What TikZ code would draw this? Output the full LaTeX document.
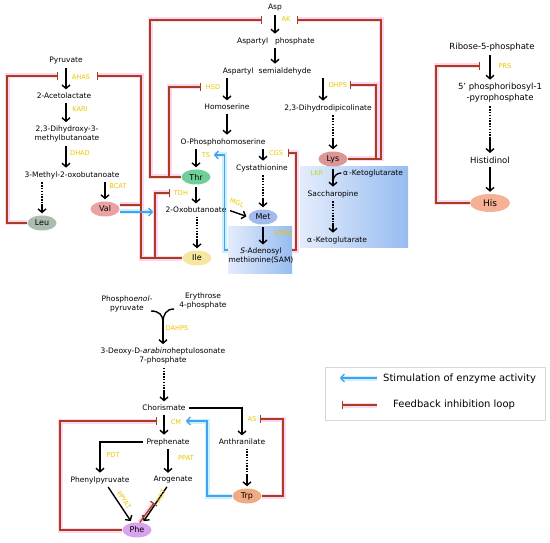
\documentclass[tikz,border=0pt]{standalone}
\usepackage{fontspec}
\setmainfont{DejaVu Sans}
\usetikzlibrary{arrows.meta,calc,shapes.geometric}
\pgfdeclarelayer{back}
\pgfdeclarelayer{mid}
\pgfsetlayers{back,mid,main}
\definecolor{inhc}{RGB}{168,62,32}
\definecolor{haloP}{RGB}{255,214,242}
\definecolor{stimc}{RGB}{70,160,235}
\definecolor{haloB}{RGB}{200,242,255}
\definecolor{enzc}{RGB}{236,196,0}
\definecolor{lkrc}{RGB}{196,212,40}
\definecolor{legc}{RGB}{215,215,215}
\definecolor{leuc}{RGB}{172,188,174}
\definecolor{valc}{RGB}{236,162,160}
\definecolor{thrc}{RGB}{112,206,152}
\definecolor{ilec}{RGB}{246,230,160}
\definecolor{metc}{RGB}{162,186,236}
\definecolor{lysc}{RGB}{220,150,150}
\definecolor{hisc}{RGB}{246,176,150}
\definecolor{trpc}{RGB}{240,170,132}
\definecolor{phec}{RGB}{216,162,236}
\definecolor{boxL}{RGB}{228,236,252}
\definecolor{boxR}{RGB}{150,188,240}
\tikzset{
 txt/.style={font=\fontsize{7.5}{9}\selectfont, inner sep=1.5pt, align=center},
 txth/.style={font=\fontsize{8.5}{11}\selectfont, inner sep=1.5pt, align=center},
 en/.style={font=\fontsize{6.6}{7}\selectfont, text=enzc, inner sep=0.5pt},
 aa/.style={ellipse, inner sep=0pt, minimum width=29pt, minimum height=15pt, font=\fontsize{8}{9}\selectfont},
 arr/.style={black, line width=1.4pt, -{Straight Barb[length=3.5pt,width=8pt]}, shorten <=2pt, shorten >=2pt},
 dotl/.style={black, line width=1.4pt, dash pattern=on 1.4pt off 1.4pt, shorten <=2pt},
 inhib/.style={inhc, line width=1.3pt, -{Bar[width=8pt]}},
 stim/.style={stimc, line width=1.3pt, -{Straight Barb[length=3.5pt,width=8pt]}},
 boxs/.style={inner sep=0pt, left color=boxL, right color=boxR},
}
\newcommand\inh[1]{\begin{pgfonlayer}{mid}\draw[haloP,line width=5pt] #1;\end{pgfonlayer}\draw[inhib] #1;}
\newcommand\stm[1]{\begin{pgfonlayer}{mid}\draw[haloB,line width=5pt] #1;\end{pgfonlayer}\draw[stim] #1;}
\newcommand\dotarr[2]{\draw[dotl] (#1) -- ($(#1)!0.68!(#2)$); \draw[arr,shorten <=0pt] ($(#1)!0.68!(#2)$) -- (#2);}
\begin{document}
\begin{tikzpicture}[x=1pt,y=-1pt]
\useasboundingbox (0,0) rectangle (550,543);
% ---------- boxes
\begin{pgfonlayer}{back}
\node[boxs, minimum width=64pt, minimum height=46pt] (sambox) at (260,250) {};
\node[boxs, minimum width=108pt, minimum height=80pt] (lysbox) at (354,207) {};
\end{pgfonlayer}
% ---------- branched-chain
\node[txt] (pyr) at (66,61) {Pyruvate};
\node[txt] (acl) at (64,96) {2-Acetolactate};
\node[txt] (dhm) at (67,134) {2,3-Dihydroxy-3-\\methylbutanoate};
\node[txt] (mob) at (72,175) {3-Methyl-2-oxobutanoate};
\node[aa, fill=valc] (val) at (105,209) {Val};
\node[aa, fill=leuc] (leu) at (42,223) {Leu};
\node[en] at (81,77) {AHAS};
\node[en] at (80,109) {KARI};
\node[en] at (80,153) {DHAD};
\node[en] at (118,186) {BCAT};
\draw[arr] (pyr.south) -- (pyr |- acl.north);
\draw[arr] (acl.south -| pyr) -- (pyr |- dhm.north);
\draw[arr] (dhm.south -| pyr) -- (pyr |- mob.north);
\draw[arr] (mob.south -| val) -- (val.north);
\coordinate (s1) at (mob.south -| leu);
\dotarr{s1}{leu.north}
\coordinate (ahasL) at (58,76);
\coordinate (ahasR) at (97,76);
% ---------- aspartate family
\node[txt] (asp) at (275,8) {Asp};
\node[txt] (aspp) at (276,41) {Aspartyl\hspace{7pt}phosphate};
\node[txt] (asps) at (267,71) {Aspartyl\hspace{5pt}semialdehyde};
\draw[arr] (asp.south) -- (asp |- aspp.north);
\draw[arr] (aspp.south -| asp) -- (asp |- asps.north);
\node[en] at (286,19) {AK};
\coordinate (akL) at (262,20);
\coordinate (akR) at (297,20);
\node[txt] (hom) at (227,107) {Homoserine};
\draw[arr] (asps.south -| hom) -- (hom.north);
\node[en] at (213,87) {HSD};
\coordinate (hsdbar) at (201,87);
\node[txt] (dhdp) at (328,108) {2,3-Dihydrodipicolinate};
\node[aa, fill=lysc] (lys) at (333,159) {Lys};
\coordinate (dhpsx) at (323,0);
\draw[arr] (asps.south -| dhpsx) -- (dhpsx |- dhdp.north);
\node[en] at (338,85) {DHPS};
\coordinate (dhpsbar) at (350,85);
\coordinate (s2) at (dhdp.south -| lys);
\dotarr{s2}{lys.north}
\node[txt] (oph) at (223,142) {O-Phosphohomoserine};
\draw[arr] (hom.south) -- (hom |- oph.north);
\node[aa, fill=thrc] (thr) at (196,177) {Thr};
\draw[arr] (oph.south -| thr) -- (thr.north);
\node[en] at (206,155) {TS};
\coordinate (tsin) at (214,155);
\node[txt] (cyst) at (262,168) {Cystathionine};
\node[aa, fill=metc] (met) at (263,217) {Met};
\draw[arr] (oph.south -| met) -- (met |- cyst.north);
\node[en] at (276,153) {CGS};
\coordinate (cgsbar) at (288,153);
\coordinate (s3) at (cyst.south -| met);
\dotarr{s3}{met.north}
\node[txt] (oxb) at (196,210) {2-Oxobutanoate};
\draw[arr] (thr.south) -- (thr |- oxb.north);
\node[en] at (181,193) {TDH};
\coordinate (tdhbar) at (170,193);
\draw[arr] (oxb.east) -- (met.west);
\node[en, rotate=-20] at (237,203) {MGL};
\node[aa, fill=ilec] (ile) at (197,258) {Ile};
\coordinate (s4) at (oxb.south -| ile);
\dotarr{s4}{ile.north}
\node[txt] (sam) at (261,256) {\textit{S}-Adenosyl\\methionine(SAM)};
\draw[arr] (met.south) -- (met |- sam.north);
\node[en] at (283,233) {SAMS};
% lysine degradation
\node[txt] (akg1) at (373,173) {α\,-Ketoglutarate};
\node[en, text=lkrc] at (317,173) {LKR};
\node[txt] (sacch) at (333,194) {Saccharopine};
\draw[arr] (lys.south) -- (lys |- sacch.north);
\coordinate (lkrj) at (333,182);
\draw[black, line width=1.3pt] (akg1.west) .. controls (337,173) and (333,176) .. (lkrj);
\node[txt] (akg2) at (337,240) {α\,-Ketoglutarate};
\coordinate (s5) at (sacch.south -| lys);
\coordinate (e5) at (lys |- akg2.north);
\dotarr{s5}{e5}
% feedback / stimulation (aspartate & BCAA)
\inh{(leu.west) -| (7,76) -- (ahasL)}
\inh{(ile.west) -| (141,76) -- (ahasR)}
\begin{pgfonlayer}{mid}\draw[haloP,line width=5pt] ([yshift=4pt]val.east) -- (141,205);\end{pgfonlayer}
\draw[inhc, line width=1.3pt] ([yshift=4pt]val.east) -- (141,205);
\inh{(155,258) |- (tdhbar)}
\coordinate (oxbin) at (153,212);
\stm{([yshift=-3pt]val.east) -- (oxbin)}
\inh{(thr.west) -| (150,20) -- (akL)}
\inh{(169,177) |- (hsdbar)}
\inh{(lys.east) -| (381,20) -- (akR)}
\inh{(376,159) |- (dhpsbar)}
\inh{(sambox.east) -| (296,153) -- (cgsbar)}
\stm{(sambox.west) -- ++(-3,0) |- (tsin)}
% ---------- histidine
\node[txth] (r5p) at (492,47) {Ribose-5-phosphate};
\node[txth] (prpp) at (500,93) {5’ phosphoribosyl-1\\-pyrophosphate};
\node[txth] (hisol) at (490,160) {Histidinol};
\node[aa, fill=hisc, minimum width=40pt, minimum height=18pt, font=\fontsize{9}{10}\selectfont] (his) at (490,203) {His};
\draw[arr] (r5p.south -| hisol) -- (hisol |- prpp.north);
\node[en] at (505,66) {PRS};
\coordinate (prsbar) at (480,66);
\coordinate (s6) at (prpp.south -| hisol);
\dotarr{s6}{hisol.north}
\draw[arr] (hisol.south) -- (his.north);
\inh{(his.west) -| (436,66) -- (prsbar)}
% ---------- aromatic
\node[txt] (pep) at (127,304) {Phospho\textit{enol}-\\pyruvate};
\node[txt] (e4p) at (203,301) {Erythrose\\4-phosphate};
\coordinate (c1) at (151,311);
\coordinate (c2) at (174,309);
\coordinate (mrg) at (163,322);
\draw[line width=1.4pt] (c1) .. controls (159,311) and (163,315) .. (mrg);
\draw[line width=1.4pt] (c2) .. controls (166,309) and (163,315) .. (mrg);
\node[txt] (dahp) at (163,356) {3-Deoxy-D-\textit{arabino}heptulosonate\\7-phosphate};
\draw[arr, shorten <=0pt] (mrg) -- (mrg |- dahp.north);
\node[en] at (177,328) {DAHPS};
\node[txt] (chor) at (164,408) {Chorismate};
\coordinate (s7) at (dahp.south -| chor);
\dotarr{s7}{chor.north}
\node[txt] (anth) at (242,442) {Anthranilate};
\draw[arr] (chor.east) -| (anth.north);
\node[en] at (252,419) {AS};
\coordinate (asbar) at (260,419);
\node[aa, fill=trpc] (trp) at (247,496) {Trp};
\coordinate (s8) at (anth.south -| trp);
\dotarr{s8}{trp.north}
\node[txt] (preph) at (168,442) {Prephenate};
\draw[arr] (chor.south) -- (chor |- preph.north);
\node[en] at (176,422) {CM};
\coordinate (cmbar) at (157,421);
\coordinate (cmin) at (186,421);
\node[txt] (phpy) at (100,480) {Phenylpyruvate};
\node[txt] (arog) at (173,480) {Arogenate};
\draw[arr] (preph.west) -| (phpy.north);
\node[en] at (113,455) {PDT};
\draw[arr] (preph.south) -- (preph |- arog.north);
\node[en] at (186,458) {PPAT};
\node[aa, fill=phec] (phe) at (137,530) {Phe};
\draw[arr] ([xshift=7pt]phpy.south) -- (phe.125);
\draw[arr] ([xshift=-5pt]arog.south) -- (phe.52);
\node[en, rotate=-55] at (124,500) {PPYAT};
\node[en, rotate=62] at (161,496) {ADT};
\coordinate (adtbar) at (154,503);
\inh{(phe.70) -- (adtbar)}
\inh{(phe.west) -| (60,421) -- (cmbar)}
\inh{(trp.east) -| (283,419) -- (asbar)}
\stm{(trp.west) -| (207,421) -- (cmin)}
% ---------- legend
\node[draw=legc, line width=0.8pt, minimum width=220pt, minimum height=53pt] (leg) at (435,393.5) {};
\coordinate (l1s) at (377,378);
\coordinate (l1e) at (340,378);
\stm{(l1s) -- (l1e)}
\node[font=\fontsize{10}{12}\selectfont, anchor=west, inner sep=0pt] (l1t) at (383,379) {Stimulation of enzyme activity};
\coordinate (l2s) at (377,405);
\coordinate (l2e) at (342,405);
\inh{(l2s) -- (l2e)}
\node[font=\fontsize{10}{12}\selectfont, anchor=west, inner sep=0pt] (l2t) at (393,405) {Feedback inhibition loop};
\end{tikzpicture}
\end{document}
